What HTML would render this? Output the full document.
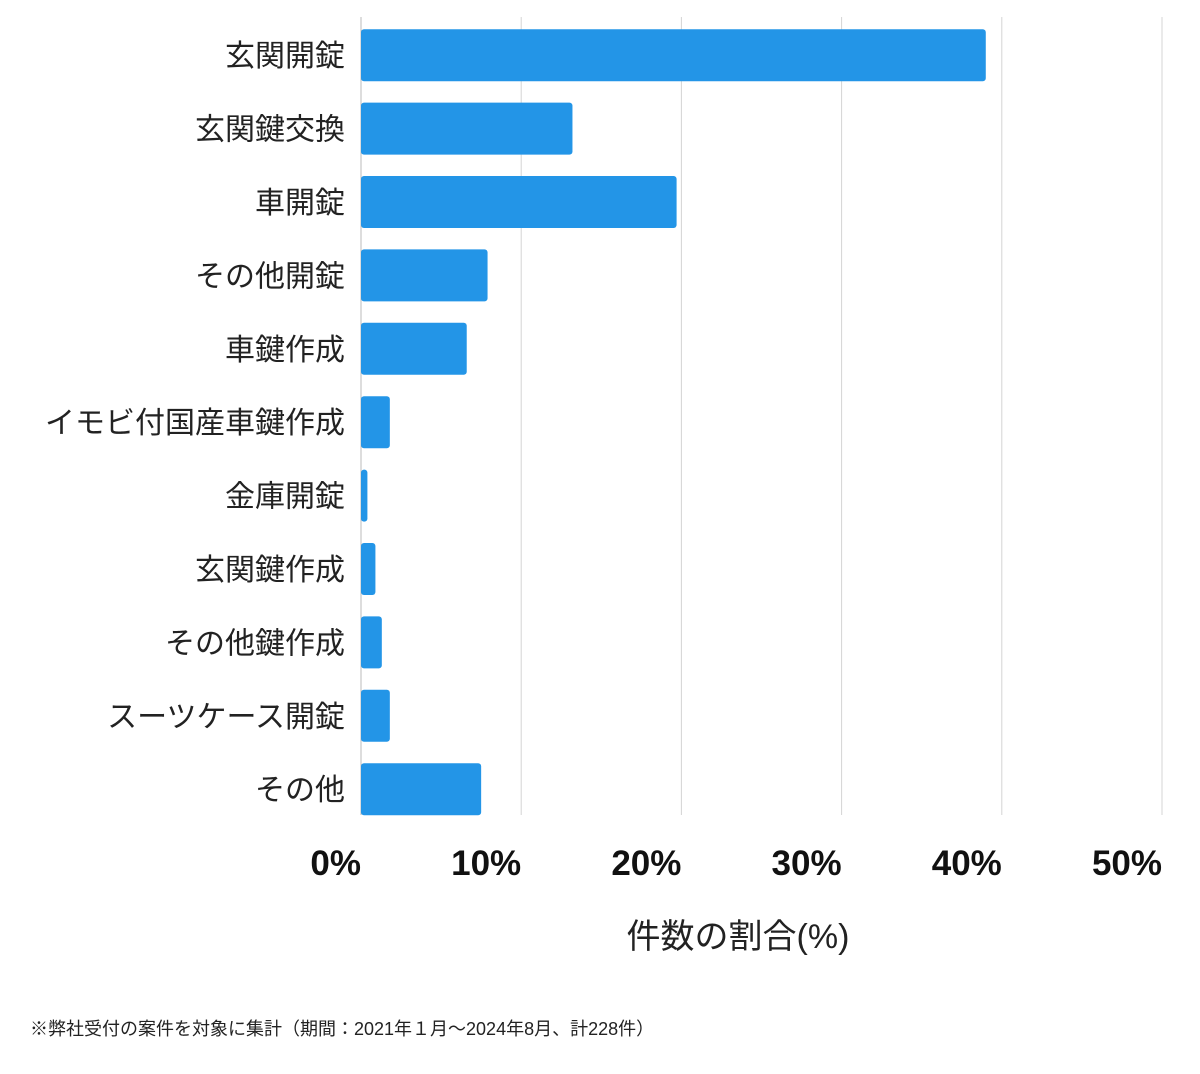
<!DOCTYPE html>
<html><head><meta charset="utf-8"><style>
body{margin:0;background:#fff;}
text{font-family:"Liberation Sans","Noto Sans CJK JP",sans-serif;}
</style></head><body>
<svg id="chart" width="1200" height="1069" xmlns="http://www.w3.org/2000/svg">
<g id="grid"></g>
<g id="bars"></g>
<g id="cats"></g>
<g id="ticks"></g>
<text x="738" y="948" font-size="34" text-anchor="middle" fill="#222">件数の割合(%)</text>
<text x="30" y="1035" font-size="18" fill="#222">※弊社受付の案件を対象に集計（期間：2021年１月〜2024年8月、計228件）</text>
</svg>
<script>
const categories=["玄関開錠","玄関鍵交換","車開錠","その他開錠","車鍵作成","イモビ付国産車鍵作成","金庫開錠","玄関鍵作成","その他鍵作成","スーツケース開錠","その他"];
const values=[39.0,13.2,19.7,7.9,6.6,1.8,0.4,0.9,1.3,1.8,7.5];
const ticks=[0,10,20,30,40,50];
const tickLabels=["0%","10%","20%","30%","40%","50%"];
const NS="http://www.w3.org/2000/svg";
const x0=361,x1=1162,xmax=50;
const x=v=>x0+(x1-x0)*v/xmax;
const yTop=18.5,step=73.4,bh=52;
const y=i=>yTop+step*i+(step-bh)/2;
function mk(t,a,p){const e=document.createElementNS(NS,t);for(const k in a)e.setAttribute(k,a[k]);p.appendChild(e);return e;}
const g=document.getElementById('grid'),b=document.getElementById('bars'),c=document.getElementById('cats'),tk=document.getElementById('ticks');
ticks.forEach((t,i)=>{
 const l=mk('line',{x1:x(t),x2:x(t),y1:17,y2:815,stroke:i==0?'#bbb':'#d4d4d4','stroke-width':1},g);
 
 
 const tx=mk('text',{x:x(t),y:875,'font-size':35,'font-weight':'bold','text-anchor':'end',fill:'#111'},tk);
 tx.textContent=tickLabels[i];
 
 
});
categories.forEach((cat,i)=>{
 const r=mk('rect',{x:x0,y:y(i),width:Math.max(0,x(values[i])-x0),height:bh,rx:3,fill:'#2395e7'},b);
 
 
 const t=mk('text',{x:345,y:y(i)+bh/2+11,'font-size':30,'text-anchor':'end',fill:'#222'},c);
 t.textContent=cat;
 
 
});
</script>
</body></html>
